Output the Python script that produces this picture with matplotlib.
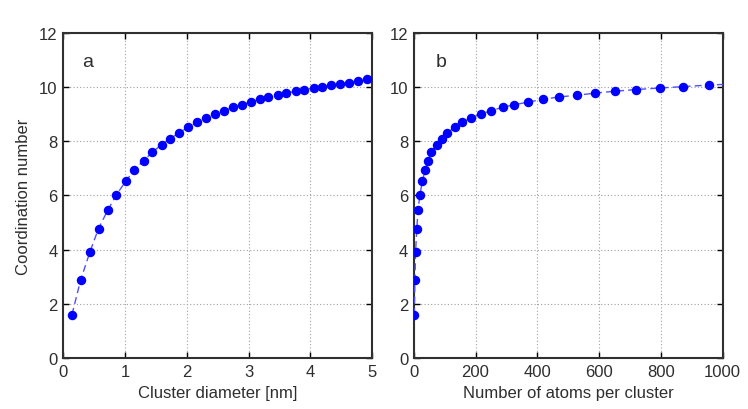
"""Coordination number versus cluster size, two-panel figure."""

from __future__ import annotations

import matplotlib

matplotlib.use("Agg")
from matplotlib import pyplot as plt

# Cluster diameters [nm] for each computed cluster.
DIAMETER_NM = [
    0.14, 0.28, 0.43, 0.57, 0.72, 0.86, 1.01, 1.15, 1.30, 1.44,
    1.59, 1.73, 1.88, 2.02, 2.17, 2.31, 2.46, 2.60, 2.75, 2.89,
    3.03, 3.18, 3.32, 3.47, 3.61, 3.76, 3.90, 4.05, 4.19, 4.34,
    4.48, 4.63, 4.77, 4.91,
]

# Number of atoms in the same clusters.
ATOM_COUNT = [
    2, 4, 6, 10, 14, 20, 28, 37, 46, 57,
    74, 91, 109, 133, 156, 185, 217, 251, 288, 325,
    371, 418, 471, 527, 587, 651, 718, 797, 873, 957,
    1045, 1140, 1240, 1345,
]

# Mean coordination number of the clusters.
COORDINATION = [
    1.60, 2.87, 3.91, 4.78, 5.46, 6.03, 6.52, 6.95, 7.29, 7.59,
    7.88, 8.10, 8.32, 8.52, 8.70, 8.86, 9.01, 9.13, 9.26, 9.35,
    9.45, 9.55, 9.64, 9.70, 9.78, 9.85, 9.91, 9.97, 10.02, 10.08,
    10.12, 10.17, 10.24, 10.29,
]

DIAMETER_TICKS = [0, 1, 2, 3, 4, 5]
ATOM_TICKS = [0, 200, 400, 600, 800, 1000]
Y_TICKS = [0, 2, 4, 6, 8, 10, 12]

TEXT_COLOR = "#2e2e2e"
FONT = ["Liberation Sans", "DejaVu Sans"]

plt.rcParams["font.family"] = FONT
plt.rcParams["font.size"] = 12


def _style_axis(axis, x_ticks: list[int], x_max: float) -> None:
    axis.set_xlim(0, x_max)
    axis.set_ylim(0, 12)
    axis.set_xticks(x_ticks)
    axis.set_yticks(Y_TICKS)
    axis.grid(True, color="#a0a0a0", linestyle=(0, (1, 2)), linewidth=0.8)
    axis.tick_params(
        direction="in",
        top=True,
        right=True,
        length=4,
        width=1,
        labelsize=12,
        labelcolor=TEXT_COLOR,
        pad=4,
    )
    for spine in axis.spines.values():
        spine.set_linewidth(1.5)
        spine.set_color("#303030")


def _plot_series(axis, x_values: list[float]) -> None:
    axis.plot(
        x_values,
        COORDINATION,
        color="#5050ff",
        linestyle=(0, (5, 3)),
        linewidth=1.0,
        zorder=3,
    )
    axis.plot(
        x_values,
        COORDINATION,
        linestyle="none",
        marker="o",
        markersize=5.8,
        color="#0000ff",
        markeredgecolor="#0000ff",
        zorder=4,
    )


figure = plt.figure(figsize=(7.48, 4.10), dpi=100)
left = figure.add_axes([0.0846, 0.1244, 0.4131, 0.7927])
right = figure.add_axes([0.5531, 0.1244, 0.4131, 0.7927])

_plot_series(left, DIAMETER_NM)
_style_axis(left, DIAMETER_TICKS, 5)
left.set_xlabel("Cluster diameter [nm]", color=TEXT_COLOR, labelpad=5)
left.set_ylabel("Coordination number", color=TEXT_COLOR, labelpad=6)
left.text(0.4, 10.95, "a", fontsize=14, color=TEXT_COLOR, ha="center", va="center")

_plot_series(right, ATOM_COUNT)
_style_axis(right, ATOM_TICKS, 1000)
right.set_xlabel("Number of atoms per cluster", color=TEXT_COLOR, labelpad=5)
right.text(90, 10.95, "b", fontsize=14, color=TEXT_COLOR, ha="center", va="center")

figure.savefig("out.png", dpi=100)
plt.close(figure)
